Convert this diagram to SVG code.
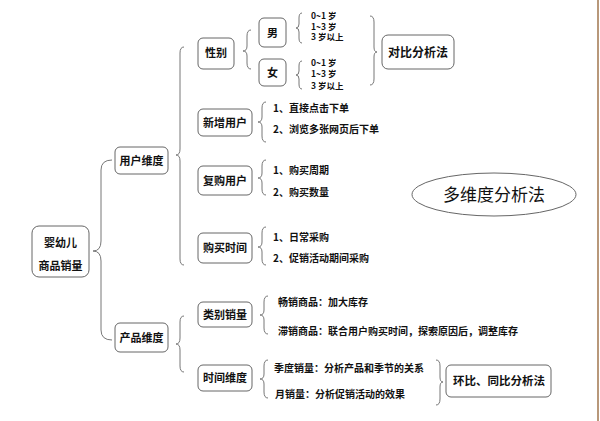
<svg xmlns="http://www.w3.org/2000/svg" width="600" height="421" viewBox="0 0 600 421">
<style>
.box{fill:#fff;stroke:#666;stroke-width:1}
.br{fill:none;stroke:#777;stroke-width:1}
.t{font-family:"Noto Sans CJK SC","Liberation Sans",sans-serif;font-weight:bold;fill:#111}
.b{font-size:11px;text-anchor:middle}
.i{font-size:10px}
.a{font-size:8.5px}
</style>
<rect width="600" height="421" fill="#fff"/>
<line x1="598" y1="0" x2="598" y2="421" stroke="#b8987a" stroke-width="2"/>
<g id="connectors">
<path class="br" d="M112,160 Q101,160 101,170 L101,241 Q101,251 93,251 Q101,251 101,261 L101,330 Q101,340 112,340"/>
<path class="br" d="M184,47 Q180,47 180,53 L180,149 Q180,155 176,155 Q180,155 180,161 L180,259 Q180,265 184,265"/>
<path class="br" d="M184,316 Q180,316 180,322 L180,338 Q180,344 176,344 Q180,344 180,350 L180,366 Q180,372 184,372"/>
<path class="br" d="M251,30 Q247,30 247,36 L247,46 Q247,51 243,51 Q247,51 247,56 L247,63 Q247,69 251,69"/>
<path class="br" d="M302,13 Q299,13 299,18 L299,24 Q299,28 296,28 Q299,28 299,32 L299,38 Q299,43 302,43"/>
<path class="br" d="M302,61 Q299,61 299,66 L299,71 Q299,75 296,75 Q299,75 299,79 L299,84 Q299,89 302,89"/>
<path class="br" d="M370,16 Q374,16 374,22 L374,47 Q374,52 377,52 Q374,52 374,57 L374,79 Q374,85 370,85"/>
<path class="br" d="M266,102 Q262,102 262,108 L262,117 Q262,122 258,122 Q262,122 262,127 L262,136 Q262,142 266,142"/>
<path class="br" d="M266,160 Q262,160 262,166 L262,173 Q262,178 258,178 Q262,178 262,183 L262,189 Q262,195 266,195"/>
<path class="br" d="M266,227 Q262,227 262,233 L262,242 Q262,247 258,247 Q262,247 262,252 L262,259 Q262,265 266,265"/>
<path class="br" d="M268,296 Q264,296 264,302 L264,310 Q264,315 260,315 Q264,315 264,320 L264,328 Q264,334 268,334"/>
<path class="br" d="M268,360 Q264,360 264,366 L264,374 Q264,379 260,379 Q264,379 264,384 L264,392 Q264,398 268,398"/>
<path class="br" d="M436,360 Q440,360 440,366 L440,377 Q440,382 443,382 Q440,382 440,387 L440,399 Q440,405 436,405"/>
</g>
<g id="root">
<rect class="box" x="32" y="226" width="57" height="51" rx="7"/>
<text class="t b" x="60.5" y="247">婴幼儿</text>
<text class="t b" x="60.5" y="270">商品销量</text>
</g>
<g id="user-dim">
<rect class="box" x="115" y="147" width="53" height="27" rx="5"/>
<text class="t b" x="141.5" y="165">用户维度</text>
</g>
<g id="product-dim">
<rect class="box" x="115" y="323" width="53" height="29" rx="5"/>
<text class="t b" x="141.5" y="342">产品维度</text>
</g>
<g id="gender">
<rect class="box" x="198" y="38" width="36" height="31" rx="5"/>
<text class="t b" x="216" y="57">性别</text>
</g>
<g id="male">
<rect class="box" x="259" y="18" width="27" height="29" rx="5"/>
<text class="t b" x="272.5" y="36.5">男</text>
<text class="t a" x="311" y="19">0~1 岁</text>
<text class="t a" x="311" y="29.5">1~3 岁</text>
<text class="t a" x="311" y="40">3 岁以上</text>
</g>
<g id="female">
<rect class="box" x="259" y="59" width="27" height="27" rx="5"/>
<text class="t b" x="272.5" y="76.5">女</text>
<text class="t a" x="311" y="66">0~1 岁</text>
<text class="t a" x="311" y="77">1~3 岁</text>
<text class="t a" x="311" y="88.5">3 岁以上</text>
</g>
<g id="compare">
<rect class="box" x="382" y="35" width="72" height="34" rx="6"/>
<text class="t" x="418" y="56.5" font-size="12" text-anchor="middle">对比分析法</text>
</g>
<g id="new-user">
<rect class="box" x="198" y="109" width="54" height="27" rx="5"/>
<text class="t b" x="225" y="126.5">新增用户</text>
<text class="t i" x="273" y="111.5">1、直接点击下单</text>
<text class="t i" x="273" y="132.5">2、浏览多张网页后下单</text>
</g>
<g id="repeat-user">
<rect class="box" x="198" y="166" width="54" height="29" rx="5"/>
<text class="t b" x="225" y="184.5">复购用户</text>
<text class="t i" x="273" y="173.5">1、购买周期</text>
<text class="t i" x="273" y="195.5">2、购买数量</text>
</g>
<g id="buy-time">
<rect class="box" x="198" y="233" width="54" height="30" rx="5"/>
<text class="t b" x="225" y="252">购买时间</text>
<text class="t i" x="273" y="240.5">1、日常采购</text>
<text class="t i" x="273" y="261.5">2、促销活动期间采购</text>
</g>
<g id="multi">
<ellipse cx="494" cy="194.5" rx="82" ry="21.5" fill="#fff" stroke="#666" stroke-width="1"/>
<text x="494" y="201" font-family="Noto Sans CJK SC,sans-serif" font-size="17" text-anchor="middle" fill="#111">多维度分析法</text>
</g>
<g id="category">
<rect class="box" x="198" y="302" width="54" height="25" rx="5"/>
<text class="t b" x="225" y="318.5">类别销量</text>
<text class="t i" x="278" y="305.5">畅销商品：加大库存</text>
<text class="t i" x="278" y="334.5">滞销商品：联合用户购买时间，探索原因后，调整库存</text>
</g>
<g id="time-dim">
<rect class="box" x="198" y="365" width="54" height="26" rx="5"/>
<text class="t b" x="225" y="382">时间维度</text>
<text class="t i" x="274" y="371.5">季度销量：分析产品和季节的关系</text>
<text class="t i" x="275" y="397.5">月销量：分析促销活动的效果</text>
</g>
<g id="ratio">
<rect class="box" x="446" y="365" width="105" height="32" rx="5"/>
<text class="t" x="453" y="384.5" font-size="11.5">环比、同比分析法</text>
</g>
</svg>
